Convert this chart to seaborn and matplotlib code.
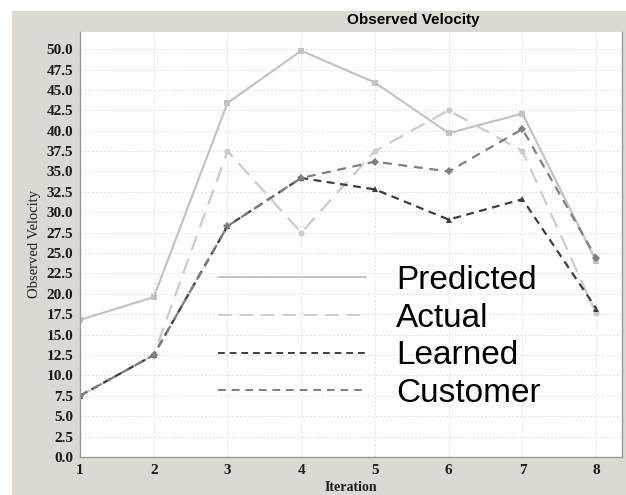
import pandas as pd
import matplotlib
matplotlib.use("Agg")
import matplotlib.pyplot as plt
import seaborn as sns
from matplotlib.lines import Line2D
from matplotlib.patches import Rectangle

# values
iterations = [1, 2, 3, 4, 5, 6, 7, 8]
predicted = [16.8, 19.6, 43.4, 49.8, 45.9, 39.7, 42.1, 24.0]
actual = [7.5, 12.5, 37.5, 27.5, 37.5, 42.5, 37.5, 17.6]
learned = [7.5, 12.5, 28.3, 34.2, 32.8, 29.1, 31.6, 18.2]
customer = [7.5, 12.5, 28.3, 34.2, 36.2, 35.0, 40.2, 24.4]
series_names = ["Predicted", "Actual", "Learned", "Customer"]

df = pd.DataFrame({
    "Iteration": iterations * 4,
    "Observed Velocity": predicted + actual + learned + customer,
    "series": [s for s in series_names for _ in iterations],
})

colors = {"Predicted": "#c3c3c3", "Actual": "#cbcbcb",
          "Learned": "#3e3e3e", "Customer": "#7e7e7e"}
dashes = {"Predicted": "", "Actual": (7, 4), "Learned": (3.5, 2.5), "Customer": (4, 3)}
markers = {"Predicted": "s", "Actual": "o", "Learned": "^", "Customer": "D"}

sns.set_style("white")
bg = "#dcd8d4"
fig = plt.figure(figsize=(6.26, 4.95), dpi=100)
fig.patch.set_facecolor(bg)
# white margins at top and left
fig.add_artist(Rectangle((0, 0.978), 1, 0.022, transform=fig.transFigure,
                         facecolor="white", edgecolor="none", zorder=0))
fig.add_artist(Rectangle((0, 0), 0.019, 1, transform=fig.transFigure,
                         facecolor="white", edgecolor="none", zorder=0))

ax = fig.add_axes([0.1278, 0.0768, 0.8658, 0.8586])
ax.set_facecolor("white")

sns.lineplot(data=df, x="Iteration", y="Observed Velocity", hue="series",
             style="series", palette=colors, dashes=dashes, markers=markers,
             markersize=4.5, markeredgewidth=0, linewidth=1.6, ax=ax, legend=False)

ax.set_xlim(1, 8.35)
ax.set_ylim(0, 52.1)
ax.set_xticks(iterations)
ax.set_yticks([i * 2.5 for i in range(21)])
ax.set_yticklabels([f"{i * 2.5:.1f}" for i in range(21)])
ax.grid(True, color="#e4e4e4", linestyle=(0, (2, 2)), linewidth=0.7)
ax.set_axisbelow(True)

for lab in ax.get_xticklabels() + ax.get_yticklabels():
    lab.set_family("Liberation Serif")
    lab.set_fontweight("bold")
    lab.set_fontsize(11)
    lab.set_color("#1a1a1a")
ax.tick_params(axis="both", length=3, color="#888888", pad=2)

for side in ["left", "bottom", "right"]:
    ax.spines[side].set_color("#999999")
    ax.spines[side].set_linewidth(1.0)
ax.spines["top"].set_visible(False)

ax.set_xlabel("Iteration", family="Liberation Serif", fontweight="bold",
              fontsize=10, labelpad=3, color="#1a1a1a")
ax.set_ylabel("Observed Velocity", family="Liberation Serif", fontsize=10.5,
              labelpad=4, color="#1a1a1a")

fig.text(0.66, 0.96, "Observed Velocity", family="Liberation Sans",
         fontweight="bold", fontsize=11, ha="center", va="center", color="black")

handles = [Line2D([], [], color=colors[s], linewidth=1.4,
                  dashes=dashes[s] if dashes[s] else (None, None))
           for s in series_names]
handles[0].set_linestyle("-")
leg = ax.legend(handles, series_names, loc="upper left",
                bbox_to_anchor=((218 - 80) / 542, (457 - 265) / 425),
                frameon=False, prop={"family": "Liberation Sans", "size": 24},
                handlelength=4.45, handletextpad=0.9, labelspacing=0.2,
                borderpad=0, borderaxespad=0)
for t in leg.get_texts():
    t.set_color("black")

fig.savefig("out.png", dpi=100, facecolor=fig.get_facecolor())
